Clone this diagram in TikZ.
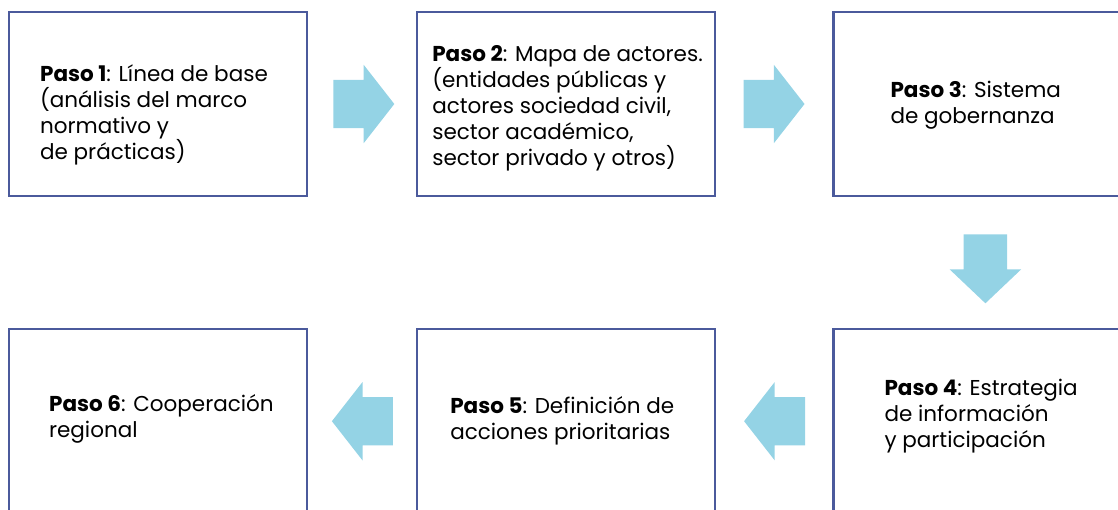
\documentclass[tikz,border=0pt]{standalone}
\usepackage{fontspec}
\setmainfont{Poppins}
\usetikzlibrary{positioning, shapes.arrows}
\definecolor{boxblue}{HTML}{4B5A9C}
\definecolor{arrowblue}{HTML}{94D3E5}
\tikzset{
    stepbox/.style={rectangle, draw=boxblue, line width=2.2pt, minimum width=298pt, minimum height=184pt, inner sep=0pt},
    steptext/.style={anchor=west, align=left, inner sep=0pt, font=\fontsize{21.5}{26}\selectfont},
    flowarrow/.style={single arrow, fill=arrowblue, draw=none, inner sep=0pt, minimum width=78pt, minimum height=61pt, single arrow head extend=15pt, single arrow tip angle=104},
    downarrow/.style={single arrow, fill=arrowblue, draw=none, inner sep=0pt, minimum width=71pt, minimum height=69pt, single arrow head extend=14pt, single arrow tip angle=93, shape border rotate=270}
}
\begin{document}
\begin{tikzpicture}[x=1pt, y=-1pt]
    \useasboundingbox (0,0) rectangle (1118,510);

        % ------------------
        % boxes
        % ------------------

        \node[stepbox] (paso1) at (158,104) {};
        \node[stepbox, right=108pt of paso1] (paso2) {};
        \node[stepbox, right=116pt of paso2] (paso3) {};

        \node[stepbox, below=131pt of paso3] (paso4) {};
        \node[stepbox, below=131pt of paso2] (paso5) {};
        \node[stepbox, below=131pt of paso1] (paso6) {};

        % ------------------
        % texts
        % ------------------

        \node[steptext] (text1) at ([xshift=32pt, yshift=-11pt]paso1.west) {\textbf{Paso 1}: Línea de base\\(análisis del marco\\normativo y\\de prácticas)};
        \node[steptext] (text2) at ([xshift=16pt, yshift=-4pt]paso2.west) {\textbf{Paso 2}: Mapa de actores.\\(entidades públicas y\\actores sociedad civil,\\sector académico,\\sector privado y otros)};
        \node[steptext] (text3) at ([xshift=58pt, yshift=-1pt]paso3.west) {\textbf{Paso 3}: Sistema\\de gobernanza};
        \node[steptext] (text4) at ([xshift=52pt, yshift=5pt]paso4.west) {\textbf{Paso 4}: Estrategia\\de información\\y participación};
        \node[steptext] (text5) at ([xshift=34pt]paso5.west) {\textbf{Paso 5}: Definición de\\acciones prioritarias};
        \node[steptext] (text6) at ([xshift=41pt, yshift=2pt]paso6.west) {\textbf{Paso 6}: Cooperación\\regional};

        % ------------------
        % arrows
        % ------------------

        \node[flowarrow, right=25pt of paso1] (a12) {\rule{0pt}{48pt}};
        \node[flowarrow, right=27pt of paso2] (a23) {\rule{0pt}{48pt}};
        \node[downarrow, below=37pt of paso3.south, xshift=3pt, anchor=north] (a34) {\rule{43pt}{0pt}};
        \node[flowarrow, shape border rotate=180, left=27pt of paso4] (a45) {\rule{0pt}{48pt}};
        \node[flowarrow, shape border rotate=180, left=23pt of paso5] (a56) {\rule{0pt}{48pt}};

\end{tikzpicture}
\end{document}
